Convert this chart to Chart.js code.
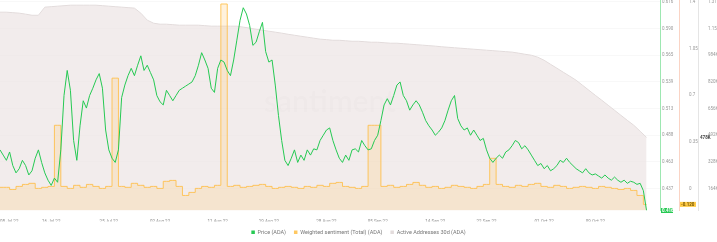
<!DOCTYPE html>
<html>
<head>
<meta charset="utf-8">
<script src="https://cdn.jsdelivr.net/npm/chart.js@4.4.1/dist/chart.umd.min.js"></script>
<style>
  html, body { margin: 0; padding: 0; background: #fff; }
  canvas { display: block; }
</style>
</head>
<body>
<canvas id="chart" width="717" height="242"></canvas>
<script>
// first day of the series (x = 0)
const startLabel = '08 Jul 22';

const tickLabels = ['08 Jul 22', '16 Jul 22', '25 Jul 22', '02 Aug 22', '11 Aug 22', '19 Aug 22',
  '28 Aug 22', '05 Sep 22', '14 Sep 22', '22 Sep 22', '01 Oct 22', '09 Oct 22'];

// ADA price, two readings a day
const price = [
  0.474, 0.469, 0.464, 0.472, 0.459, 0.452, 0.456, 0.464, 0.459, 0.450,
  0.454, 0.466, 0.474, 0.462, 0.452, 0.445, 0.440, 0.447, 0.443, 0.474,
  0.526, 0.550, 0.531, 0.483, 0.464, 0.497, 0.521, 0.514, 0.526, 0.533,
  0.541, 0.547, 0.533, 0.493, 0.474, 0.466, 0.462, 0.474, 0.524, 0.536,
  0.545, 0.552, 0.545, 0.555, 0.564, 0.550, 0.555, 0.548, 0.541, 0.526,
  0.520, 0.517, 0.531, 0.526, 0.521, 0.526, 0.531, 0.533, 0.535, 0.537,
  0.539, 0.545, 0.555, 0.567, 0.560, 0.552, 0.533, 0.529, 0.552, 0.560,
  0.558, 0.550, 0.545, 0.560, 0.579, 0.598, 0.610, 0.604, 0.593, 0.574,
  0.577, 0.587, 0.596, 0.568, 0.558, 0.560, 0.536, 0.507, 0.483, 0.464,
  0.459, 0.466, 0.474, 0.462, 0.469, 0.464, 0.474, 0.469, 0.475, 0.474,
  0.483, 0.488, 0.493, 0.495, 0.483, 0.474, 0.466, 0.462, 0.469, 0.464,
  0.474, 0.475, 0.472, 0.483, 0.478, 0.474, 0.475, 0.483, 0.488, 0.502,
  0.517, 0.523, 0.517, 0.526, 0.536, 0.539, 0.526, 0.521, 0.512, 0.517,
  0.521, 0.517, 0.510, 0.502, 0.497, 0.493, 0.488, 0.491, 0.495, 0.502,
  0.512, 0.521, 0.526, 0.504, 0.497, 0.493, 0.495, 0.488, 0.493, 0.488,
  0.483, 0.485, 0.474, 0.466, 0.462, 0.466, 0.469, 0.466, 0.472, 0.474,
  0.478, 0.483, 0.481, 0.475, 0.478, 0.474, 0.469, 0.464, 0.459, 0.461,
  0.456, 0.459, 0.454, 0.456, 0.459, 0.464, 0.462, 0.466, 0.462, 0.459,
  0.456, 0.454, 0.452, 0.456, 0.452, 0.450, 0.451, 0.449, 0.447, 0.450,
  0.447, 0.445, 0.448, 0.445, 0.443, 0.445, 0.442, 0.444, 0.443, 0.441,
  0.442, 0.435, 0.416
];

// weighted sentiment (total), daily
const sentiment = [
  0.008, 0.008, -0.008, 0.015, 0.030, 0.038, 0.000, 0.008, 0.015, 0.474,
  0.015, 0.000, 0.023, 0.008, 0.030, 0.015, 0.000, 0.015, 0.828, 0.015,
  0.008, 0.038, 0.023, 0.008, 0.015, 0.000, 0.053, 0.060, 0.015, -0.053,
  -0.030, 0.000, 0.015, 0.008, 0.023, 1.385, 0.015, 0.023, 0.008, 0.015,
  0.023, 0.030, 0.015, 0.000, 0.008, 0.015, 0.008, 0.000, 0.015, 0.008,
  0.023, 0.015, 0.038, 0.045, 0.015, 0.008, 0.000, 0.015, 0.474, 0.474,
  0.015, 0.023, 0.008, 0.015, 0.030, 0.045, 0.023, 0.008, 0.015, 0.000,
  0.008, 0.023, 0.015, 0.008, 0.000, 0.015, 0.030, 0.226, 0.030, 0.015,
  0.008, 0.023, 0.015, 0.030, 0.038, 0.015, 0.008, 0.023, 0.015, 0.000,
  0.008, 0.015, 0.008, 0.000, 0.015, 0.008, 0.000, -0.008, 0.000, -0.015,
  -0.053, -0.120
];

// active addresses 30d, daily
const activeAddresses = [
  1249000, 1249000, 1246000, 1243000, 1237000, 1230000, 1230000, 1280000, 1283000, 1286000,
  1289000, 1292000, 1292000, 1292000, 1292000, 1292000, 1289000, 1286000, 1283000, 1280000,
  1277000, 1274000, 1243000, 1200000, 1181000, 1175000, 1175000, 1172000, 1169000, 1169000,
  1169000, 1169000, 1166000, 1163000, 1163000, 1163000, 1163000, 1163000, 1157000, 1151000,
  1144000, 1138000, 1132000, 1126000, 1120000, 1113000, 1107000, 1101000, 1095000, 1089000,
  1083000, 1080000, 1076000, 1076000, 1073000, 1070000, 1070000, 1067000, 1064000, 1064000,
  1061000, 1058000, 1058000, 1055000, 1052000, 1049000, 1046000, 1043000, 1040000, 1036000,
  1033000, 1030000, 1027000, 1024000, 1021000, 1018000, 1015000, 1012000, 1009000, 1006000,
  1003000, 997000, 990000, 984000, 972000, 953000, 928000, 904000, 879000, 855000,
  830000, 799000, 768000, 737000, 707000, 676000, 645000, 614000, 583000, 553000,
  516000, 478000
];

const priceTicks = [0.437, 0.4625, 0.488, 0.5135, 0.539, 0.5645, 0.59, 0.6155];
const sentimentTicks = [0, 0.35, 0.7, 1.05, 1.4];
const activeTicks = [164000, 328000, 492000, 656000, 820000, 984000, 1148000, 1312000];

const months = { Jan: 0, Feb: 1, Mar: 2, Apr: 3, May: 4, Jun: 5, Jul: 6, Aug: 7, Sep: 8, Oct: 9, Nov: 10, Dec: 11 };
function dayStamp(label) {
  const [d, m, y] = label.split(' ');
  return Date.UTC(2000 + Number(y), months[m], Number(d)) / 864e5;
}
const day0 = dayStamp(startLabel);
const X_MAX = 103.1;

const GREEN = '#26C953';
const YELLOW = '#FFCB47';
const tickFont = { family: 'Roboto', size: 4.5 };

function fmtK(v) {
  return v >= 1e6 ? (v / 1e6).toFixed(2) + 'M' : Math.round(v / 1000) + 'K';
}

function rightAxis(min, max, values, fmt, borderColor, grid) {
  return {
    type: 'linear', position: 'right', min: min, max: max,
    afterBuildTicks: s => { s.ticks = values.map(v => ({ value: v })); },
    afterFit: s => { s.width = 19; s.paddingTop = 0; s.paddingBottom = 0; },
    ticks: { font: tickFont, color: '#999', padding: 2, callback: v => fmt(v) },
    grid: grid ? { color: 'rgba(0,0,0,0.028)', drawTicks: false } : { display: false },
    border: { color: borderColor, width: 1 }
  };
}

const extras = {
  id: 'extras',
  beforeDatasetsDraw(chart) {
    const { ctx, chartArea } = chart;
    ctx.save();
    ctx.fillStyle = 'rgba(0,0,0,0.05)';
    ctx.font = '600 30px Lato';
    ctx.textAlign = 'center';
    ctx.textBaseline = 'middle';
    ctx.fillText('santiment', (chartArea.left + chartArea.right) / 2, 102);
    ctx.restore();
  },
  afterDraw(chart) {
    const { ctx } = chart;
    const sp = chart.scales.yPrice, ss = chart.scales.ySent, sa = chart.scales.yActive;
    const lp = price[price.length - 1];
    const ls = sentiment[sentiment.length - 1];
    const la = activeAddresses[activeAddresses.length - 1];
    ctx.save();
    ctx.font = 'bold 4.5px Roboto';
    ctx.textBaseline = 'middle';
    ctx.textAlign = 'left';
    let y = sp.getPixelForValue(lp);
    ctx.fillStyle = GREEN;
    ctx.fillRect(sp.left + 1, y - 2.5, 12, 5);
    ctx.fillStyle = '#fff';
    ctx.fillText(lp.toFixed(3), sp.left + 2, y);
    y = ss.getPixelForValue(ls);
    ctx.fillStyle = YELLOW;
    ctx.fillRect(ss.left + 1, y - 2.5, 16, 5);
    ctx.fillStyle = '#7a5a00';
    ctx.fillText(ls.toFixed(3), ss.left + 2, y);
    y = sa.getPixelForValue(la);
    ctx.fillStyle = '#444';
    ctx.fillText(fmtK(la), sa.left + 2, y);
    ctx.restore();
  }
};

new Chart(document.getElementById('chart').getContext('2d'), {
  type: 'line',
  data: {
    datasets: [{
      label: 'Price (ADA)',
      data: price.map((v, i) => ({ x: i / 2, y: v })),
      yAxisID: 'yPrice',
      borderColor: GREEN,
      backgroundColor: GREEN,
      borderWidth: 1,
      pointRadius: 0,
      fill: false
    }, {
      label: 'Weighted sentiment (Total) (ADA)',
      data: sentiment.map((v, i) => ({ x: i, y: v })),
      yAxisID: 'ySent',
      stepped: 'middle',
      borderColor: 'rgba(255, 190, 70, 0.85)',
      backgroundColor: 'rgba(255, 196, 100, 0.22)',
      borderWidth: 1,
      pointRadius: 0,
      fill: 'start'
    }, {
      label: 'Active Addresses 30d (ADA)',
      data: activeAddresses.map((v, i) => ({ x: i, y: v })),
      yAxisID: 'yActive',
      borderColor: '#e3dcdc',
      backgroundColor: 'rgba(236, 228, 228, 0.7)',
      borderWidth: 1,
      pointRadius: 0,
      fill: 'start'
    }]
  },
  options: {
    responsive: false,
    animation: false,
    devicePixelRatio: 1,
    layout: { padding: { left: 0, right: 0, top: 0, bottom: -3 } },
    scales: {
      x: {
        type: 'linear', min: 0, max: X_MAX,
        afterBuildTicks: s => {
          s.ticks = tickLabels.map(l => ({ value: dayStamp(l) - day0 }));
          s.ticks.push({ value: X_MAX });
        },
        afterFit: s => { s.height = 11; s.paddingLeft = 0; s.paddingRight = 0; },
        ticks: {
          font: tickFont, color: '#8c8c8c', maxRotation: 0, padding: 1, align: 'inner',
          callback: (v, i) => tickLabels[i] || ''
        },
        grid: { display: false },
        border: { display: false }
      },
      yPrice: rightAxis(0.416, 0.6174, priceTicks, v => v.toFixed(3), 'rgba(38, 201, 83, 0.45)', true),
      ySent: rightAxis(-0.166, 1.415, sentimentTicks, v => String(v), 'rgba(245, 170, 140, 0.5)', false),
      yActive: rightAxis(28000, 1324000, activeTicks, fmtK, 'rgba(0, 0, 0, 0.1)', false)
    },
    plugins: {
      legend: {
        position: 'bottom',
        labels: {
          font: { family: 'Roboto', size: 5.5 },
          color: '#777',
          boxWidth: 3.5,
          boxHeight: 3.5,
          padding: 8,
          generateLabels: chart => Chart.defaults.plugins.legend.labels.generateLabels(chart)
            .map(l => Object.assign(l, { fillStyle: l.strokeStyle, lineWidth: 0 }))
        }
      },
      tooltip: { enabled: false }
    }
  },
  plugins: [extras]
});
</script>
</body>
</html>
